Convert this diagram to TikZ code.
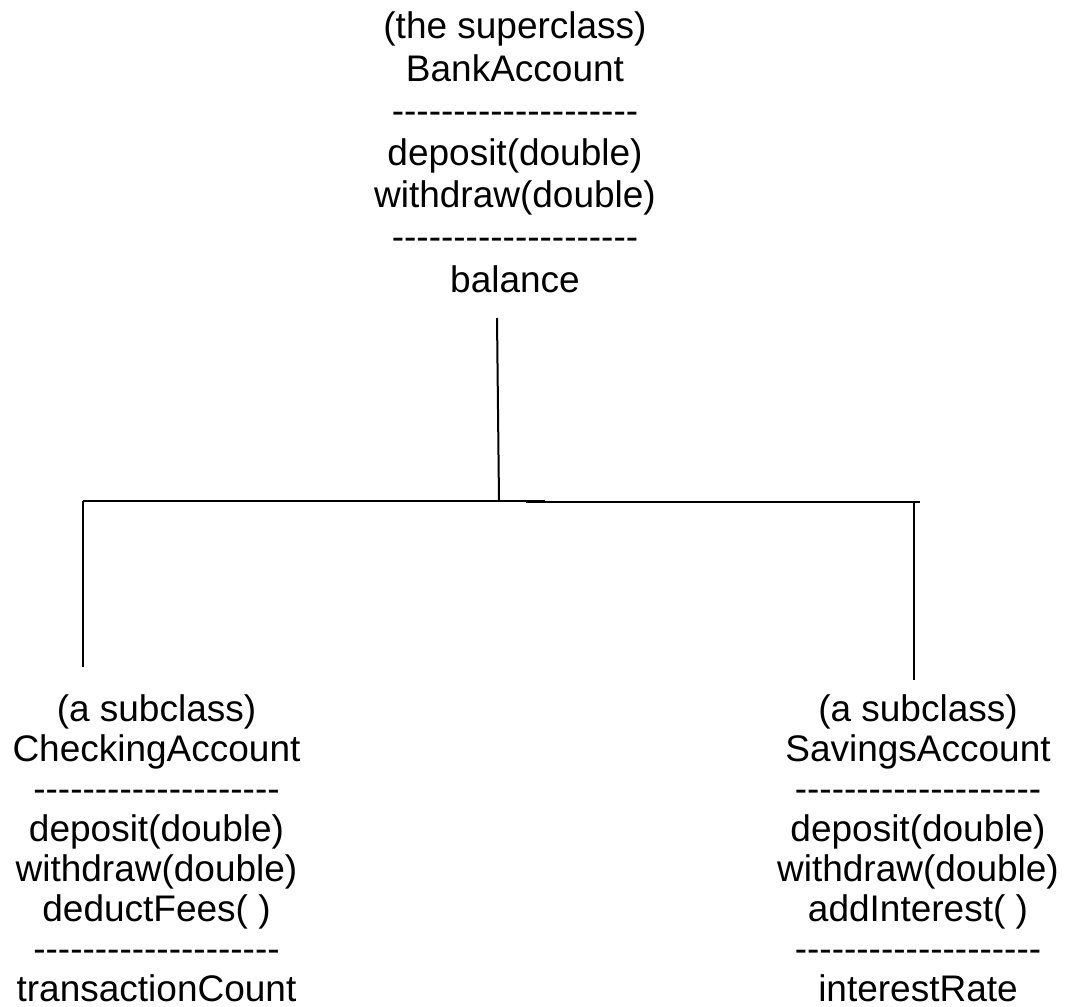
\documentclass[tikz,border=0pt]{standalone}
\usepackage{fontspec}
\setmainfont{Liberation Sans}
\newcommand\dashline{\foreach\i in {1,...,20}{-\kern0pt}}
\tikzset{
  classbox/.style={font=\fontsize{37}{42.2}\selectfont, align=center, inner sep=0pt, anchor=base},
  subbox/.style={classbox, font=\fontsize{37}{39.9}\selectfont},
  link/.style={line width=2pt, black}
}
\begin{document}
\begin{tikzpicture}[x=1pt,y=-1pt]
\useasboundingbox (0,0) rectangle (1069,1007);
\node[classbox] (bank) at (515,292) {(the superclass)\\BankAccount\\\dashline\\deposit(double)\\withdraw(double)\\\dashline\\balance};
\node[subbox] (check) at (156.5,1001) {(a subclass)\\CheckingAccount\\\dashline\\deposit(double)\\withdraw(double)\\deductFees( )\\\dashline\\transactionCount};
\node[subbox] (save) at (918,1001) {(a subclass)\\SavingsAccount\\\dashline\\deposit(double)\\withdraw(double)\\addInterest( )\\\dashline\\interestRate};
\coordinate (btop) at (497,318);
\coordinate (bjoin) at (499,501);
\coordinate (hl) at (83,501);
\coordinate (hlm) at (545,501);
\coordinate (hrm) at (526,501.6);
\coordinate (hr) at (920,501.6);
\coordinate (cl) at (83,667);
\coordinate (sr) at (914,501);
\coordinate (sb) at (914,680);
\draw[link] (btop) -- (bjoin);
\draw[link] (hl) -- (hlm);
\draw[link] (hrm) -- (hr);
\draw[link] (hl) -- (cl);
\draw[link] (sr) -- (sb);
\end{tikzpicture}
\end{document}
